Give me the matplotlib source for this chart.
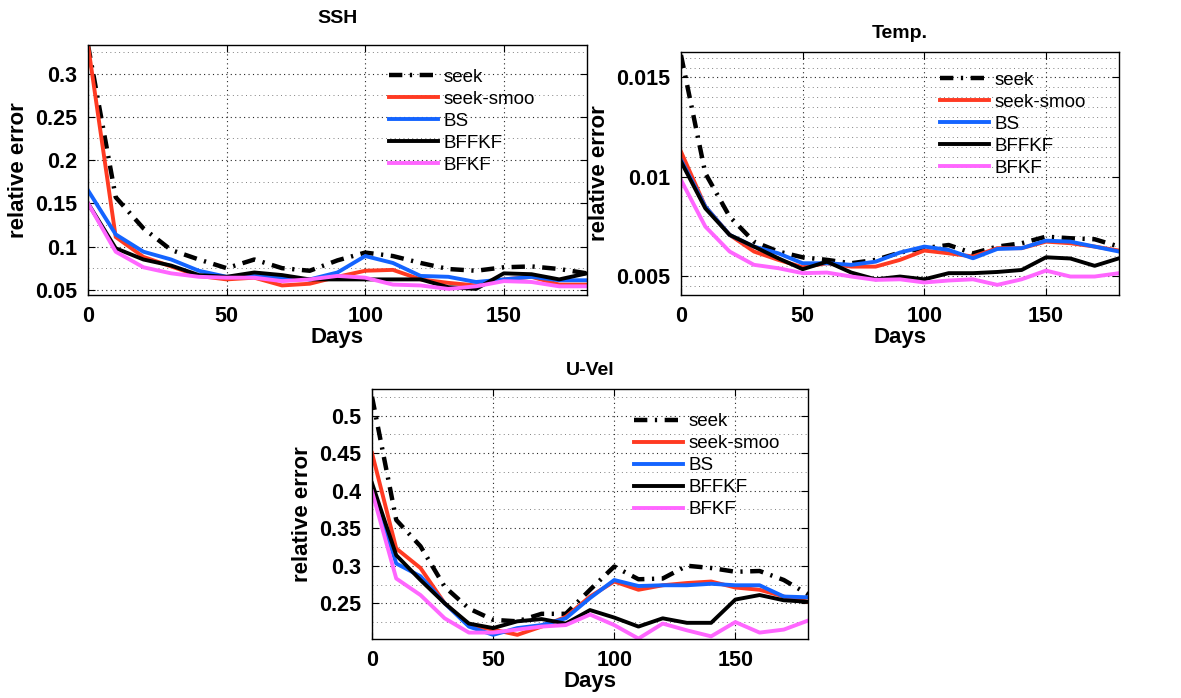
import matplotlib

matplotlib.use("Agg")
import matplotlib.pyplot as plt
from matplotlib.ticker import MultipleLocator, FormatStrFormatter

plt.rcParams["font.family"] = ["Liberation Sans", "DejaVu Sans"]

days = [0, 10, 20, 30, 40, 50, 60, 70, 80, 90, 100, 110, 120, 130, 140, 150, 160, 170, 180]
labels = ["seek", "seek-smoo", "BS", "BFFKF", "BFKF"]

# SSH relative error
ssh_seek = [0.333, 0.157, 0.121, 0.096, 0.085, 0.075, 0.085, 0.075, 0.072, 0.084,
            0.093, 0.089, 0.081, 0.074, 0.072, 0.076, 0.077, 0.074, 0.069]
ssh_smoo = [0.333, 0.111, 0.088, 0.077, 0.066, 0.062, 0.064, 0.055, 0.057, 0.065,
            0.072, 0.073, 0.062, 0.058, 0.055, 0.062, 0.065, 0.056, 0.056]
ssh_bs = [0.165, 0.114, 0.094, 0.085, 0.072, 0.065, 0.066, 0.064, 0.062, 0.070,
          0.089, 0.081, 0.066, 0.065, 0.059, 0.062, 0.065, 0.061, 0.061]
ssh_bffkf = [0.150, 0.098, 0.085, 0.078, 0.067, 0.065, 0.070, 0.067, 0.062, 0.062,
             0.062, 0.062, 0.062, 0.053, 0.051, 0.069, 0.068, 0.062, 0.069]
ssh_bfkf = [0.150, 0.094, 0.076, 0.069, 0.065, 0.064, 0.064, 0.060, 0.062, 0.066,
            0.064, 0.056, 0.055, 0.051, 0.054, 0.060, 0.059, 0.054, 0.054]

# Temperature relative error
temp_seek = [0.01613, 0.01017, 0.00798, 0.00672, 0.00622, 0.00593, 0.00580, 0.00563, 0.00580, 0.00617,
             0.00639, 0.00655, 0.00613, 0.00647, 0.00664, 0.00697, 0.00689, 0.00684, 0.00647]
temp_smoo = [0.01126, 0.00849, 0.00706, 0.00622, 0.00580, 0.00543, 0.00563, 0.00546, 0.00546, 0.00580,
             0.00627, 0.00613, 0.00597, 0.00639, 0.00639, 0.00672, 0.00664, 0.00647, 0.00627]
temp_bs = [0.01084, 0.00849, 0.00706, 0.00647, 0.00613, 0.00563, 0.00563, 0.00555, 0.00571, 0.00617,
           0.00647, 0.00630, 0.00588, 0.00635, 0.00639, 0.00677, 0.00672, 0.00647, 0.00622]
temp_bffkf = [0.01076, 0.00840, 0.00706, 0.00647, 0.00588, 0.00533, 0.00571, 0.00516, 0.00482, 0.00496,
              0.00482, 0.00513, 0.00513, 0.00519, 0.00529, 0.00593, 0.00587, 0.00550, 0.00588]
temp_bfkf = [0.00983, 0.00748, 0.00622, 0.00555, 0.00538, 0.00513, 0.00516, 0.00496, 0.00479, 0.00482,
             0.00466, 0.00476, 0.00482, 0.00454, 0.00482, 0.00526, 0.00496, 0.00496, 0.00513]

# U-velocity relative error
u_seek = [0.525, 0.361, 0.326, 0.272, 0.243, 0.228, 0.226, 0.236, 0.236, 0.268,
          0.299, 0.282, 0.283, 0.300, 0.297, 0.292, 0.293, 0.281, 0.262]
u_smoo = [0.450, 0.323, 0.297, 0.250, 0.221, 0.215, 0.208, 0.219, 0.232, 0.259,
          0.279, 0.268, 0.274, 0.277, 0.279, 0.271, 0.268, 0.259, 0.252]
u_bs = [0.405, 0.303, 0.286, 0.250, 0.219, 0.208, 0.217, 0.221, 0.230, 0.257,
        0.281, 0.273, 0.274, 0.274, 0.276, 0.274, 0.274, 0.259, 0.258]
u_bffkf = [0.410, 0.314, 0.281, 0.250, 0.223, 0.217, 0.226, 0.229, 0.223, 0.241,
           0.231, 0.219, 0.230, 0.224, 0.224, 0.255, 0.261, 0.254, 0.252]
u_bfkf = [0.399, 0.283, 0.261, 0.230, 0.211, 0.211, 0.215, 0.219, 0.221, 0.235,
          0.221, 0.203, 0.223, 0.214, 0.206, 0.225, 0.211, 0.215, 0.227]

COLORS = ["black", "#ff3a22", "#1464ff", "black", "#ff66ff"]
SEEK_DASH = (3.0, 1.7, 0.5, 1.7)

fig = plt.figure(figsize=(11.81, 6.98), dpi=100)


def panel(rect, title, series, ylim, major, minor, leg_xy, title_pad):
    ax = fig.add_axes(rect)
    for i, (vals, lab) in enumerate(zip(series, labels)):
        if i == 0:
            ax.plot(days, vals, color=COLORS[i], lw=3.2, dashes=SEEK_DASH, label=lab)
        else:
            ax.plot(days, vals, color=COLORS[i], lw=2.8, label=lab)
    ax.set_xlim(0, 180)
    ax.set_ylim(*ylim)
    ax.xaxis.set_major_locator(MultipleLocator(50))
    ax.yaxis.set_major_locator(MultipleLocator(major))
    ax.yaxis.set_minor_locator(MultipleLocator(minor))
    ax.yaxis.set_major_formatter(FormatStrFormatter("%g"))
    ax.grid(which="major", linestyle=(0, (1, 3)), color="0.15", lw=0.8)
    ax.grid(which="minor", axis="y", linestyle=(0, (1, 3.5)), color="0.5", lw=0.7)
    ax.tick_params(which="major", direction="in", top=True, right=True, length=5, width=0.8,
                   labelsize=15.5, pad=8)
    ax.tick_params(which="minor", length=0)
    for t in ax.get_xticklabels() + ax.get_yticklabels():
        t.set_fontweight("bold")
    ax.set_xlabel("Days", fontsize=16, fontweight="bold", labelpad=0)
    ax.set_ylabel("relative error", fontsize=16, fontweight="bold", labelpad=4)
    ax.set_title(title, fontsize=14, fontweight="bold", pad=title_pad)
    for s in ax.spines.values():
        s.set_linewidth(1.0)
    ax.legend(loc="upper left", bbox_to_anchor=leg_xy, frameon=False, fontsize=13.5,
              handlelength=2.6, handletextpad=0.3, labelspacing=0.26,
              borderpad=0, borderaxespad=0)
    return ax


panel([0.0745, 0.5774, 0.4225, 0.3582], "SSH",
      [ssh_seek, ssh_smoo, ssh_bs, ssh_bffkf, ssh_bfkf],
      (0.044, 0.333), 0.05, 0.025, (0.603, 0.905), 16)
panel([0.5766, 0.5774, 0.3709, 0.3486], "Temp.",
      [temp_seek, temp_smoo, temp_bs, temp_bffkf, temp_bfkf],
      (0.00403, 0.0163), 0.005, 0.0005, (0.591, 0.918), 10)
panel([0.315, 0.0850, 0.3692, 0.3573], "U-Vel",
      [u_seek, u_smoo, u_bs, u_bffkf, u_bfkf],
      (0.2029, 0.535), 0.05, 0.025, (0.601, 0.905), 10)

fig.savefig("out.png", dpi=100)
